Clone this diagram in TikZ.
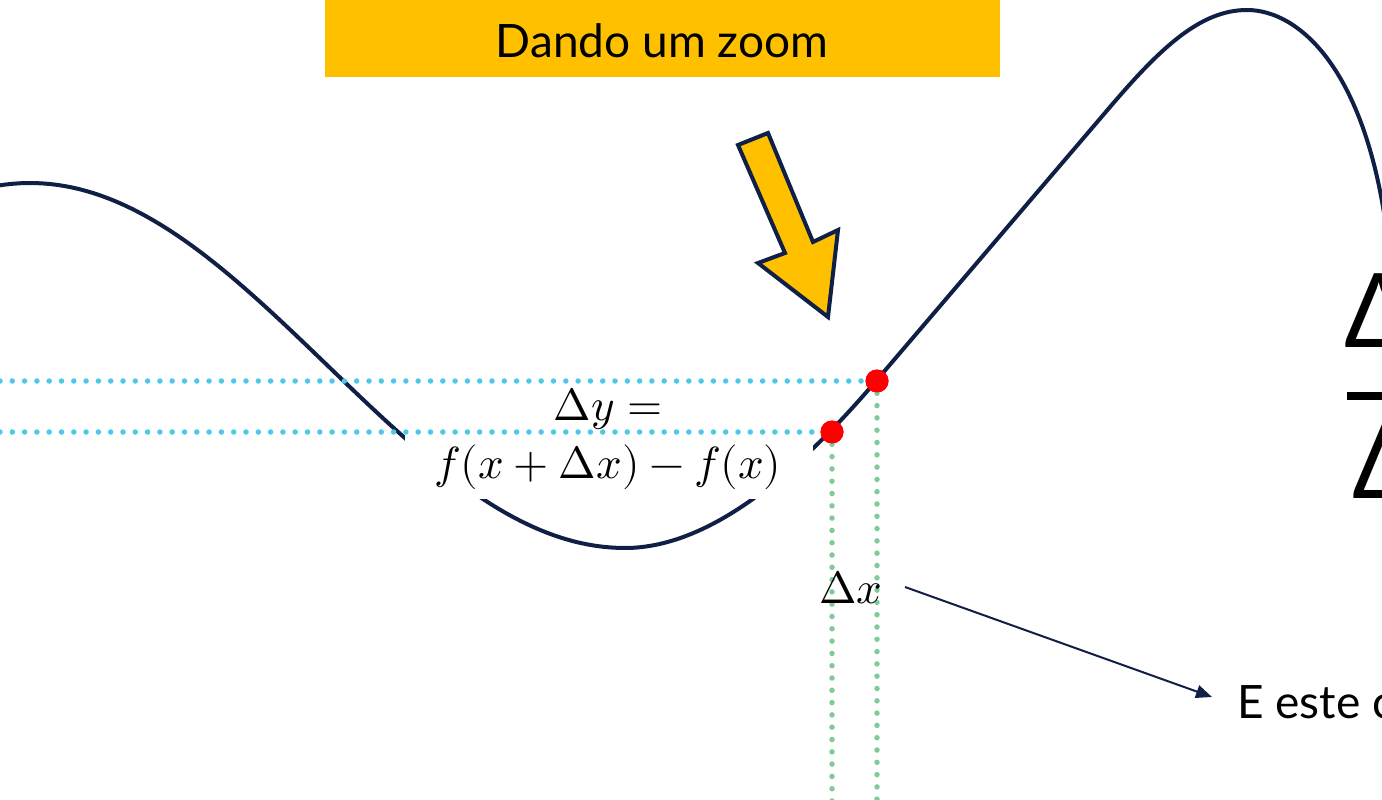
\documentclass[tikz,border=0pt]{standalone}
\usepackage{fontspec}
\usepackage{unicode-math}
\setmainfont{Lato}
\setmathfont{Latin Modern Math}
\usetikzlibrary{arrows.meta}
\definecolor{navy}{HTML}{0F1F45}
\definecolor{gold}{HTML}{FFC000}
\definecolor{cyandot}{HTML}{4CC9EA}
\definecolor{greendot}{HTML}{7FCB98}
\definecolor{reddot}{HTML}{FF0000}
\tikzset{
  curveline/.style={navy, line width=4pt, line cap=round, line join=round},
  dotline/.style={line width=5.5pt, dash pattern=on 0pt off 12.3pt, line cap=round},
  hdots/.style={dotline, cyandot},
  vdots/.style={dotline, greendot},
  redpt/.style={circle, fill=reddot, inner sep=0pt, minimum size=23pt},
  mathlbl/.style={font=\fontsize{45}{50}\selectfont, inner sep=0pt},
  sanslbl/.style={font=\fontsize{46}{52}\selectfont, inner sep=0pt},
  biglbl/.style={font=\fontsize{103}{110}\selectfont, inner sep=0pt},
}
\begin{document}
\begin{tikzpicture}[x=1pt,y=-1pt]
\useasboundingbox (0,0) rectangle (1382,800);
\clip (0,0) rectangle (1382,800);
% curve
\draw[curveline] plot[domain=-40:625, samples=90] (\x, {365.5-182.5*cos((\x-30)/595*180)})
  .. controls (715,548) and (806,463) .. (876,381)
  -- (1110,107)
  .. controls (1160,48.5) and (1200,10) .. (1247,10)
  .. controls (1300,10) and (1372,72) .. (1390,260);
% white mask behind the label
\node[fill=white, inner sep=0pt, minimum width=408pt, minimum height=106pt] (mask) at (609,446) {};
% points
\node[redpt] (p1) at (832,432) {};
\node[redpt] (p2) at (877,381) {};
\coordinate (l1) at (0,432);
\coordinate (l2) at (0,381);
\coordinate (b1) at (832,805);
\coordinate (b2) at (877,805);
\draw[hdots] (l2) -- (p2.center);
\draw[hdots] (l1) -- (p1.center);
\draw[vdots] (p1.center) -- (b1);
\draw[vdots] (p2.center) -- (b2);
\node[redpt] (p1b) at (p1) {};
\node[redpt] (p2b) at (p2) {};
% labels
\node[mathlbl, anchor=base] (dya) at (608,420) {$\Delta y =$};
\node[mathlbl, anchor=base] (dyb) at (608,478) {$f(x+\Delta x)-f(x)$};
\node[mathlbl, anchor=base] (dx) at (851,603) {$\Delta x$};
\node[sanslbl, anchor=base west] (et) at (1237,718) {E este c};
\coordinate (a1) at (905,587);
\coordinate (a2) at (1212,697);
\draw[navy, line width=2pt, -{Triangle[length=16pt,width=13pt]}] (a1) -- (a2);
% big fraction at right edge
\node[biglbl, anchor=base west] (num) at (1344,347) {Δ};
\node[biglbl, anchor=base west] (den) at (1352,498) {Δ};
\fill[black] (1347,392) rectangle (1395,400);
% title
\node[fill=gold, inner sep=0pt, minimum width=675pt, minimum height=77pt, anchor=north west] (title) at (325,0) {};
\node[sanslbl, anchor=base] (titletext) at (662,58) {Dando um zoom};
% yellow arrow
\draw[navy, line width=4pt, fill=gold, line join=miter]
  (738,145) -- (768,133) -- (813,242) -- (838,230) -- (828,317) -- (758,263) -- (785,253) -- cycle;
\end{tikzpicture}
\end{document}
